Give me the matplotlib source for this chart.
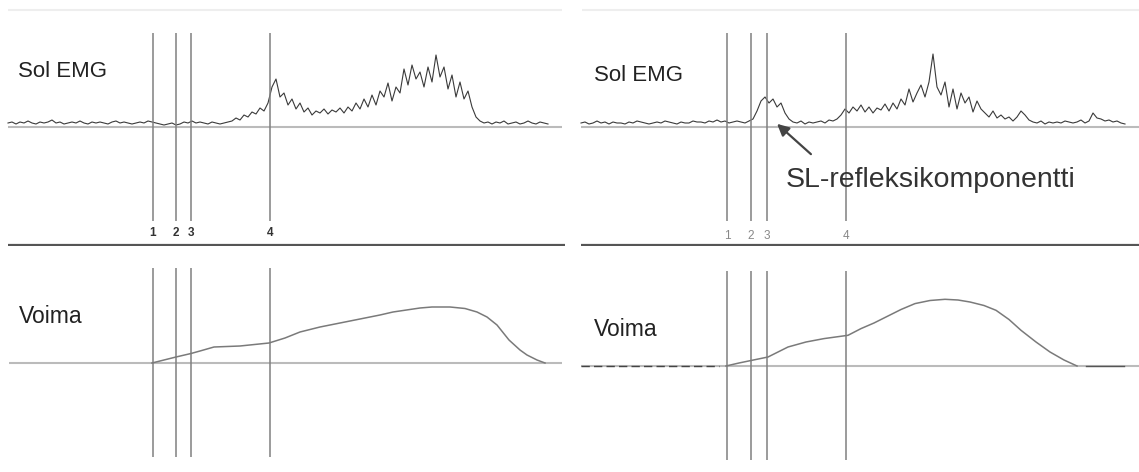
import numpy as np
import matplotlib.pyplot as plt

plt.rcParams['font.family'] = ['Liberation Sans', 'DejaVu Sans']

# time axis is shared by both columns (samples), amplitudes in arbitrary units
MARKERS_L = [153, 176, 191, 270]
MARKERS_R = [153, 177, 193, 272]
MARKER_LABELS = ["1", "2", "3", "4"]

EMG_T0_L, EMG_T0_R, EMG_STEP = 8, 7, 4
EMG_L = [4, 5, 3, 5, 4, 6, 4, 3, 5, 4, 5, 7, 4, 5, 3, 4, 5, 4, 6, 4,
         3, 5, 4, 5, 4, 3, 5, 6, 4, 5, 4, 3, 4, 5, 4, 6, 5, 4, 3, 2,
         3, 4, 2, 3, 5, 4, 6, 4, 5, 4, 3, 5, 4, 3, 4, 5,
         6, 9, 7, 12, 10, 15, 13, 19, 16, 24,
         40, 48, 30,
         34, 22, 28, 18, 24, 15, 19, 12, 16, 14, 18, 13, 17, 15, 19,
         14, 20, 16, 24, 18, 28, 20, 32, 22, 36,
         30, 44, 26, 40, 34,
         58, 42, 62, 48, 55, 40, 60, 45, 72, 50,
         60, 38, 52, 30, 45, 28, 36, 20,
         10, 6, 4, 5, 3, 5, 4, 6, 3, 4, 5, 3, 4, 6, 4, 3, 5, 4, 3]
EMG_R = [4, 5, 3, 4, 6, 4, 5, 3, 5, 4, 4, 3, 5, 4, 6, 5, 4, 3, 4, 5,
         4, 6, 5, 4, 3, 5, 4, 4, 6, 5, 5, 4, 6, 5, 7, 5, 6, 4, 5, 6,
         5, 4, 6,
         8, 16, 26, 30, 24, 28, 20, 24, 14, 8,
         5, 4, 6, 3, 5, 4, 5, 6, 4, 7, 6, 8,
         12, 18, 14, 20,
         16, 22, 15, 20, 14, 19, 17, 23, 16, 24, 18,
         28, 22, 38, 25, 34, 42, 30, 45, 73, 40,
         32, 45, 20, 38, 18, 34, 24, 30, 15, 26, 18,
         14, 10, 16, 9, 12, 8, 10,
         6, 10, 16, 12, 7, 5, 4, 6, 3, 5, 4, 5, 4, 6, 5, 4, 5, 7, 4, 6,
         14, 9, 8, 6, 7, 5, 6, 4, 3]

FORCE_T_L = [152, 160, 176, 191, 200, 214, 240, 269, 285, 300, 320, 350,
             380, 393, 420, 432, 450, 465, 477, 487, 497, 509, 520, 527, 537, 545]
FORCE_L = [0, 2, 6, 9.5, 12, 16, 17, 20, 25, 31, 36, 42,
           48, 51, 55, 56, 56, 54.5, 51, 46, 38, 23, 13, 8, 3, 0]
FORCE_T_R = [152, 165, 178, 194, 214, 232, 250, 274, 287, 300, 312, 327,
             341, 356, 371, 384, 396, 410, 422, 435, 447, 462, 476, 490, 503]
FORCE_R = [0, 3, 5.7, 9, 19, 24, 27.4, 30.7, 37.4, 43, 49, 56.5,
           62.4, 65.5, 66.7, 66, 64, 60.5, 55.7, 46.5, 35.7, 24, 14, 6, 0]
FORCE_PRE_R = [7, 145]
FORCE_POST_R = [512, 550]

fig = plt.figure(figsize=(11.39, 4.72), dpi=100)
W, H = 1139, 472
TOP_H, COL_W, RIGHT_X = 246, 565, 574


def make_ax(x0, y0, h, ylim):
    ax = fig.add_axes([x0 / W, 1 - (y0 + h) / H, COL_W / W, h / H])
    ax.set_xlim(0, COL_W)
    ax.set_ylim(*ylim)
    ax.axis("off")
    return ax


def draw_top(ax, emg, t0, markers, bold, tx, ty, base_end):
    t = t0 + EMG_STEP * np.arange(len(emg))
    ax.hlines(117, 8, base_end, color="#eeeeee", lw=1.5)
    ax.hlines(0, t0, base_end, color="#bbbbbb", lw=1.5)
    ax.plot(t, emg, color="#3a3a3a", lw=0.8)
    ax.vlines(markers, -94, 94, color="#808080", lw=1.1)
    ax.hlines(-118, t0, base_end + 20, color="#555555", lw=1.6)
    for m, lab in zip(markers, MARKER_LABELS):
        ax.text(m, -109 if bold else -112, lab, ha="center", va="baseline",
                fontsize=8.5, color="#333333" if bold else "#888888",
                fontweight="bold" if bold else "normal")
    ax.text(tx, ty, "Sol EMG", fontsize=16, color="#222222", va="baseline")


def draw_bottom(ax, ft, fv, markers, tx, ty, t0, base_end):
    ax.hlines(0, t0, base_end, color="#bbbbbb", lw=1.5)
    ax.vlines(markers, -94, 95, color="#808080", lw=1.1)
    ax.plot(ft, fv, color="#7a7a7a", lw=1.1)
    ax.text(tx, ty, "Voima", fontsize=16.5, color="#222222", va="baseline")


# left column
ax_tl = make_ax(0, 0, TOP_H, (-119, 127))
draw_top(ax_tl, EMG_L, EMG_T0_L, MARKERS_L, True, 18, 50, 562)
ax_bl = make_ax(0, TOP_H, H - TOP_H, (-109, 117))
draw_bottom(ax_bl, FORCE_T_L, FORCE_L, MARKERS_L, 19, 40, 9, 562)

# right column
ax_tr = make_ax(RIGHT_X, 0, TOP_H, (-119, 127))
draw_top(ax_tr, EMG_R, EMG_T0_R, MARKERS_R, False, 20, 46, 565)
ax_tr.annotate("", xy=(201, 5), xytext=(239, -29),
               arrowprops=dict(arrowstyle="-|>,head_length=0.7,head_width=0.35",
                               color="#444444", lw=1.6))
ax_tr.text(212, -60, "SL-refleksikomponentti", fontsize=20.5, color="#333333",
           va="baseline")

ax_br = make_ax(RIGHT_X, TOP_H, H - TOP_H, (-106, 120))
draw_bottom(ax_br, FORCE_T_R, FORCE_R, MARKERS_R, 20, 30, 7, 565)
ax_br.plot(FORCE_PRE_R, [0, 0], color="#444444", lw=1.0, ls=(0, (6, 3)))
ax_br.plot(FORCE_POST_R, [0, 0], color="#555555", lw=1.0)

fig.savefig("out.png", dpi=100, facecolor="white")
